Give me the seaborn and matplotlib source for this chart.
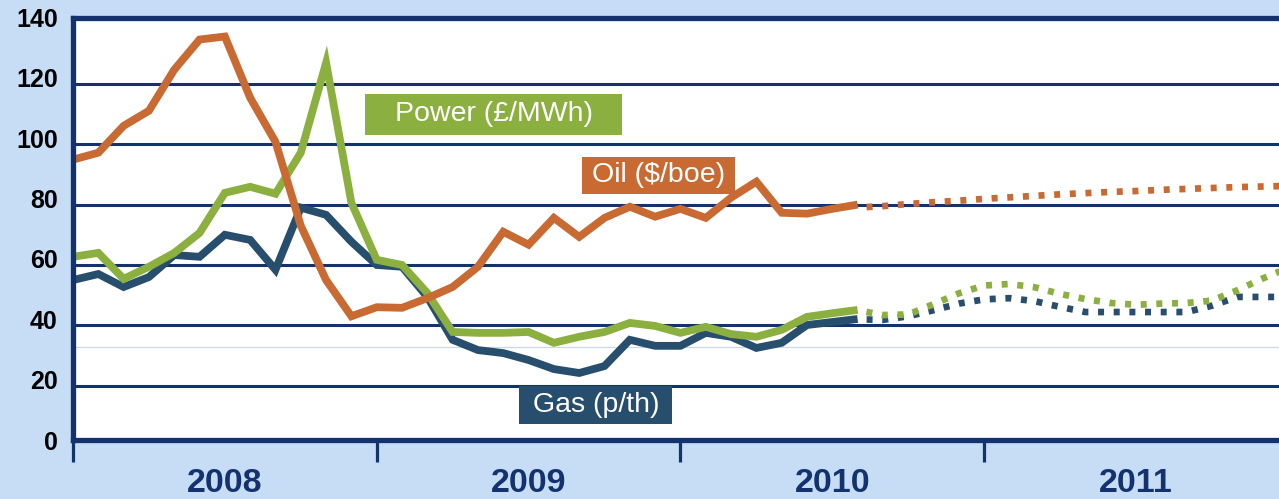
import matplotlib
matplotlib.use("Agg")
import matplotlib.pyplot as plt
from matplotlib.patches import Rectangle
import seaborn as sns

# --- datos (meses desde ene-2008) ---
meses_hist = list(range(32))
oil_hist = [94.9, 97.2, 106.1, 111.1, 124.7, 134.7, 135.7, 115.4, 100.8, 73.0,
            55.0, 43.0, 46.0, 45.8, 49.0, 52.7, 59.4, 71.0, 66.7, 75.6,
            69.3, 75.6, 79.3, 76.0, 78.6, 75.6, 82.3, 87.6, 77.3, 77.0,
            78.6, 80.0]
gas_hist = [55.0, 57.0, 52.7, 56.0, 63.3, 62.7, 70.0, 68.3, 58.4, 79.0,
            76.6, 67.7, 60.0, 59.4, 49.4, 35.2, 31.8, 30.8, 28.5, 25.5,
            24.2, 26.5, 35.2, 33.2, 33.2, 37.5, 36.2, 32.5, 34.2, 40.1,
            41.1, 42.1]
power_hist = [62.7, 64.0, 55.4, 59.4, 64.0, 70.6, 83.9, 85.9, 83.6, 97.2,
              127.0, 80.6, 61.7, 60.0, 50.7, 37.8, 37.5, 37.5, 37.8, 34.2,
              36.2, 37.8, 40.8, 39.8, 37.5, 39.5, 37.1, 36.2, 38.5, 42.8,
              44.0, 45.1]

meses_fwd = list(range(31, 49))
oil_fwd = [79.0, 79.5, 80.2, 80.8, 81.3, 81.9, 82.4, 82.9, 83.4, 83.8,
           84.2, 84.5, 84.9, 85.2, 85.5, 85.8, 86.0, 86.2]
gas_fwd = [42.0, 41.8, 43.0, 45.0, 47.2, 48.6, 49.0, 48.0, 46.1, 44.4,
           44.4, 44.4, 44.4, 44.4, 46.5, 49.4, 49.4, 49.4]
power_fwd = [45.0, 43.4, 43.6, 47.0, 50.6, 53.2, 53.7, 52.6, 50.4, 48.7,
             47.4, 46.8, 47.2, 47.4, 48.2, 51.6, 55.5, 59.0]

years = ["2008", "2009", "2010", "2011"]
y_labels = ["0", "20", "40", "60", "80", "100", "120", "140"]

# --- estilo ---
C_OIL = "#C96A32"
C_POWER = "#8BB040"
C_GAS = "#284E6E"
NAVY = "#14326E"
BG = "#C6DDF5"

sns.set_style("white")
plt.rcParams["font.family"] = ["Liberation Sans", "DejaVu Sans"]

fig = plt.figure(figsize=(12.79, 4.99), dpi=100, facecolor=BG)
ax = fig.add_axes([73 / 1279, 59 / 499, 1 - 73 / 1279, (440 - 17.5) / 499])
ax.set_facecolor("white")

ax.set_xlim(0, 47.65)
ax.set_ylim(2, 142)

# lineas guia
ax.set_yticks([20, 40, 60, 80, 100, 120], minor=True)
ax.grid(True, which="minor", axis="y", color=NAVY, lw=2.2, zorder=1)
ax.grid(False, which="major")
ax.axhline(32.8, color="#C9D9EC", lw=0.9, zorder=1)

# series historicas (solidas)
lw_hist = 5.6
sns.lineplot(x=meses_hist, y=gas_hist, ax=ax, color=C_GAS, lw=lw_hist,
             zorder=3, solid_joinstyle="miter", solid_capstyle="butt")
sns.lineplot(x=meses_hist, y=power_hist, ax=ax, color=C_POWER, lw=lw_hist,
             zorder=4, solid_joinstyle="miter", solid_capstyle="butt")
sns.lineplot(x=meses_hist, y=oil_hist, ax=ax, color=C_OIL, lw=lw_hist,
             zorder=5, solid_joinstyle="miter", solid_capstyle="butt")

# series futuras (punteadas)
lw_fwd = 4.8
punteado = (1.0, (0.9, 1.45))
for ys, col, z in [(gas_fwd, C_GAS, 3), (power_fwd, C_POWER, 4), (oil_fwd, C_OIL, 5)]:
    sns.lineplot(x=meses_fwd, y=ys, ax=ax, color=col, lw=lw_fwd, zorder=z,
                 linestyle=punteado, dash_capstyle="butt")

# etiquetas en caja
etiquetas = [
    ("Power (£/MWh)", C_POWER, 11.54, 21.70, 103.15, 116.75),
    ("Oil ($/boe)", C_OIL, 20.12, 26.17, 83.58, 95.85),
    ("Gas (p/th)", C_GAS, 17.63, 23.68, 7.30, 19.90),
]
for txt, col, x0, x1, y0, y1 in etiquetas:
    ax.add_patch(Rectangle((x0, y0), x1 - x0, y1 - y0, facecolor=col,
                           edgecolor="none", zorder=6))
    ax.text((x0 + x1) / 2, (y0 + y1) / 2, txt, color="white", fontsize=20.5,
            ha="center", va="center", zorder=7)

# ejes
for s in ["left", "bottom", "top"]:
    ax.spines[s].set_visible(True)
    ax.spines[s].set_color(NAVY)
    ax.spines[s].set_linewidth(3.8)
    ax.spines[s].set_zorder(8)
ax.spines["right"].set_visible(False)

ax.set_yticks([2 + 20 * i for i in range(len(y_labels))])
ax.set_yticklabels(y_labels, fontsize=18, fontweight="bold", color="black")
ax.tick_params(axis="y", which="both", length=0, pad=11)

ax.set_xticks([0, 12, 24, 36])
ax.set_xticklabels([])
ax.set_xticks([6, 18, 30, 42], minor=True)
ax.set_xticklabels(years, minor=True, fontsize=24.5, fontweight="bold", color=NAVY)
ax.tick_params(axis="x", which="major", direction="out", length=16, width=2.3,
               color=NAVY, bottom=True)
ax.tick_params(axis="x", which="minor", length=0, pad=20, bottom=True)

ax.set_xlabel("")
ax.set_ylabel("")

fig.savefig("out.png", dpi=100, facecolor=BG)
